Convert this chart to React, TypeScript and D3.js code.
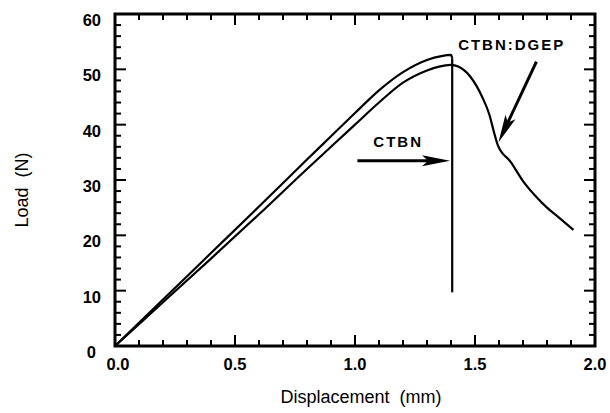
import React from 'react';
import * as d3 from 'd3';

// CTBN (upper curve, brittle drop at peak)
const ctbnDisp = [0, 0.2, 0.4, 0.6, 0.8, 0.9, 1.0, 1.1, 1.2, 1.3, 1.36, 1.4, 1.405];
const ctbnLoad = [0, 8.4, 16.8, 25.2, 33.7, 37.9, 42.1, 46.2, 49.5, 51.7, 52.4, 52.6, 52.0];
const dropDisp = [1.405, 1.405];
const dropLoad = [52.0, 9.7];

// CTBN:DGEP (lower curve, gradual failure)
const dgepDisp = [0, 0.2, 0.4, 0.6, 0.8, 0.9, 1.0, 1.1, 1.2, 1.3, 1.35, 1.4, 1.43, 1.48, 1.53, 1.56, 1.58, 1.595, 1.65, 1.7, 1.75, 1.8, 1.85, 1.91];
const dgepLoad = [0, 7.9, 15.8, 23.8, 32.0, 36.0, 40.0, 44.0, 47.6, 49.8, 50.5, 50.8, 50.5, 48.7, 45.0, 41.8, 38.5, 36.3, 33.2, 29.8, 27.2, 25.0, 23.2, 21.0];

const xTicks = [0, 0.5, 1.0, 1.5, 2.0];
const yTicks = [0, 10, 20, 30, 40, 50, 60];

class App extends React.Component {
  constructor(props) {
    super(props);
    this.width = 610;
    this.height = 413;
    this.margins = { top: 14, right: 15, bottom: 67, left: 115 };
    this.x = d3.scaleLinear().domain([0, 2]).range([this.margins.left, this.width - this.margins.right]);
    this.y = d3.scaleLinear().domain([0, 60]).range([this.height - this.margins.bottom, this.margins.top]);
    this.curve = d3.line().x((d) => this.x(d[0])).y((d) => this.y(d[1])).curve(d3.curveMonotoneX);
    this.straight = d3.line().x((d) => this.x(d[0])).y((d) => this.y(d[1]));
  }

  arrow(x1, y1, x2, y2, key) {
    // shaft from (x1,y1) to tip (x2,y2) in data units, filled head
    const ax = this.x(x1), ay = this.y(y1), bx = this.x(x2), by = this.y(y2);
    const len = Math.hypot(bx - ax, by - ay);
    const ux = (bx - ax) / len, uy = (by - ay) / len;
    const hl = 28, hw = 5.5;
    const baseX = bx - ux * hl, baseY = by - uy * hl;
    const head = [
      [bx, by],
      [baseX - uy * hw, baseY + ux * hw],
      [baseX + ux * 6 , baseY + uy * 6],
      [baseX + uy * hw, baseY - ux * hw],
    ];
    return (
      <g key={key}>
        <line x1={ax} y1={ay} x2={baseX + ux * 6} y2={baseY + uy * 6} stroke="#000" strokeWidth={3} />
        <path d={'M' + head.map((p) => p.join(',')).join('L') + 'Z'} fill="#000" />
      </g>
    );
  }

  render() {
    const x = this.x, y = this.y;
    const [x0, x1] = x.range();
    const [y0, y1] = y.range();
    const xMinor = d3.range(0, 2.0001, 0.1);
    const yMinor = d3.range(0, 60.001, 2);
    const font = '"Liberation Sans", Arial, Helvetica, sans-serif';
    const ctbn = ctbnDisp.map((d, i) => [d, ctbnLoad[i]]);
    const drop = dropDisp.map((d, i) => [d, dropLoad[i]]);
    const dgep = dgepDisp.map((d, i) => [d, dgepLoad[i]]);

    return (
      <svg width={this.width} height={this.height} style={{ position: 'absolute', left: 0, top: 0, background: '#fff' }}>
        {/* ticks, inward on all four sides */}
        {xMinor.map((v, i) => {
          const major = Math.abs(v * 2 - Math.round(v * 2)) < 1e-6;
          return (
            <g key={'xt' + i}>
              <line x1={x(v)} x2={x(v)} y1={y0} y2={y0 - (major ? 11 : 6)} stroke="#000" strokeWidth={2} />
              <line x1={x(v)} x2={x(v)} y1={y1} y2={y1 + (major ? 11 : 6)} stroke="#000" strokeWidth={2} />
            </g>
          );
        })}
        {yMinor.map((v, i) => {
          const major = v % 10 === 0;
          return (
            <g key={'yt' + i}>
              <line x1={x0} x2={x0 + (major ? 11 : 6)} y1={y(v)} y2={y(v)} stroke="#000" strokeWidth={2} />
              <line x1={x1} x2={x1 - (major ? 11 : 6)} y1={y(v)} y2={y(v)} stroke="#000" strokeWidth={2} />
            </g>
          );
        })}
        <rect x={x0} y={y1} width={x1 - x0} height={y0 - y1} fill="none" stroke="#000" strokeWidth={3} />

        {/* tick labels */}
        {xTicks.map((v) => (
          <text key={'xl' + v} x={x(v) + (v === 0 ? 3 : 0)} y={y0 + 24} textAnchor="middle"
            fontFamily={font} fontWeight="bold" fontSize={16.5}>{v.toFixed(1)}</text>
        ))}
        {yTicks.map((v) => (
          <text key={'yl' + v} x={v === 0 ? 96 : 101} y={y(v) + 12} textAnchor="end"
            fontFamily={font} fontWeight="bold" fontSize={16.5}>{v}</text>
        ))}

        {/* axis titles */}
        <text x={361} y={403} textAnchor="middle" fontFamily={font} fontSize={18}
          style={{ whiteSpace: 'pre' }}>{'Displacement  (mm)'}</text>
        <text transform="translate(28, 190) rotate(-90)" textAnchor="middle" fontFamily={font} fontSize={18}
          style={{ whiteSpace: 'pre' }}>{'Load  (N)'}</text>

        {/* curves */}
        <path d={this.curve(ctbn)} fill="none" stroke="#000" strokeWidth={2.2} strokeLinejoin="round" />
        <path d={this.straight(drop)} fill="none" stroke="#000" strokeWidth={2.2} />
        <path d={this.curve(dgep)} fill="none" stroke="#000" strokeWidth={2.2} strokeLinejoin="round" />

        {/* annotations */}
        {this.arrow(1.01, 33.5, 1.396, 33.5, 'a1')}
        {this.arrow(1.756, 51.4, 1.598, 36.8, 'a2')}
        <text x={x(1.18)} y={y(36)} textAnchor="middle" fontFamily={font} fontWeight="bold" fontSize={15}
          letterSpacing={2}>CTBN</text>
        <text x={x(1.653)} y={y(53.5)} textAnchor="middle" fontFamily={font} fontWeight="bold" fontSize={15}
          letterSpacing={2}>CTBN:DGEP</text>
      </svg>
    );
  }
}

export default App;
